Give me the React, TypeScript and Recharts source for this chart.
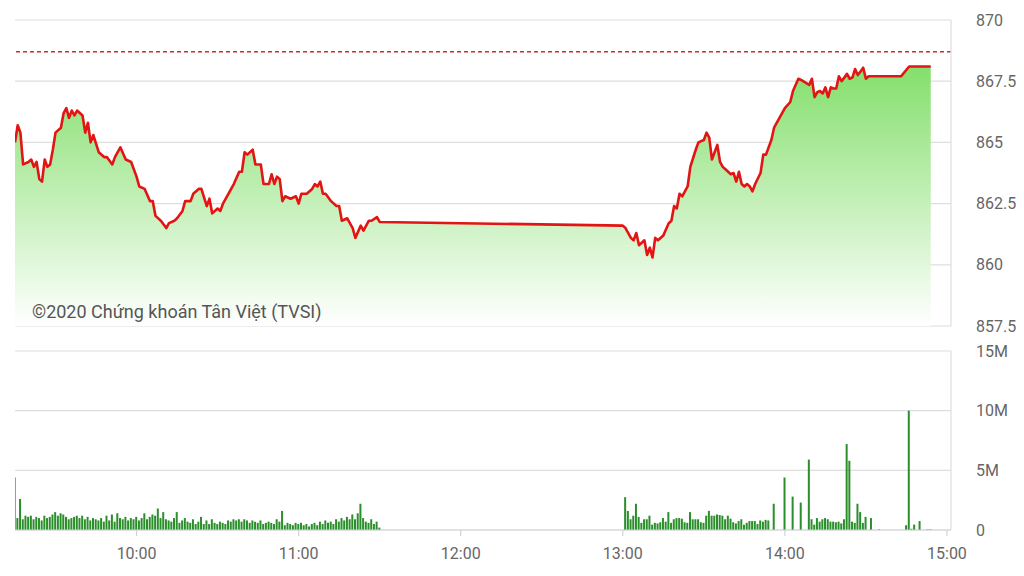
import { ComposedChart, Area, Bar, XAxis, YAxis, CartesianGrid, ReferenceLine } from 'recharts';

// minutes since midnight
const priceTimes = [
  555, 556, 557, 558, 560, 561, 562, 563, 564, 565, 566, 567, 568, 569, 570, 572, 573, 574, 575, 576,
  577, 578, 580, 581, 582, 583, 584, 586, 588, 589, 591, 592, 594, 596, 598, 600, 601, 603, 605, 606,
  607, 609, 611, 612, 614, 615, 617, 618, 620, 621, 623, 624, 626, 627, 628, 630, 631, 632, 634, 636,
  638, 639, 640, 641, 643, 644, 646, 647, 649, 650, 651, 652, 653, 654, 655, 657, 659, 660, 661, 662,
  663, 665, 666, 667, 668, 669, 670, 672, 674, 675, 676, 678, 680, 681, 683, 684, 686, 687, 689, 690,
  780, 781, 783, 784, 785, 786, 788, 789, 790, 791, 792, 793, 795, 797, 798, 799, 800, 801, 802, 804,
  805, 807, 808, 810, 811, 812, 813, 815, 816, 817, 818, 820, 821, 822, 823, 824, 825, 826, 827, 828,
  829, 831, 832, 833, 835, 836, 838, 840, 842, 843, 845, 846, 849, 850, 851, 852, 853, 854, 855, 856,
  857, 858, 859, 860, 861, 863, 864, 865, 866, 867, 868, 869, 870, 871, 883, 886, 894,
];

const priceValues = [
  865.0, 865.7, 865.4, 864.1, 864.2, 864.3, 864.0, 864.2, 863.5, 863.4, 864.3, 864.0, 864.1, 864.7, 865.4, 865.6, 866.2, 866.4, 866.0, 866.3,
  866.1, 866.3, 866.1, 865.4, 865.8, 865.0, 865.3, 864.6, 864.4, 864.4, 864.1, 864.4, 864.8, 864.3, 864.2, 863.6, 863.2, 863.1, 862.6, 862.6,
  862.0, 861.8, 861.5, 861.7, 861.8, 861.9, 862.2, 862.6, 862.6, 862.9, 863.1, 863.1, 862.4, 862.7, 862.1, 862.3, 862.2, 862.5, 862.9, 863.3,
  863.8, 863.8, 864.6, 864.5, 864.7, 864.1, 864.1, 863.3, 863.3, 863.7, 863.3, 863.6, 863.5, 862.6, 862.8, 862.7, 862.8, 862.5, 862.9, 862.9,
  862.9, 863.1, 863.3, 863.2, 863.4, 862.9, 862.9, 862.6, 862.4, 862.4, 861.8, 861.9, 861.5, 861.1, 861.6, 861.4, 861.8, 861.8, 861.95, 861.75,
  861.6, 861.5, 861.1, 861.0, 861.3, 860.8, 861.0, 860.4, 860.7, 860.3, 861.1, 861.0, 861.2, 861.7, 861.8, 862.4, 862.3, 862.9, 862.8, 863.2,
  864.0, 864.7, 865.0, 865.1, 865.4, 865.2, 864.3, 864.9, 864.2, 864.0, 863.9, 863.7, 863.75, 863.4, 863.8, 863.3, 863.2, 863.3, 863.2, 863.0,
  863.3, 863.75, 864.5, 864.5, 865.1, 865.6, 866.0, 866.4, 866.65, 867.1, 867.6, 867.55, 867.35, 867.6, 866.85, 867.05, 867.1, 867.0, 867.25, 866.85,
  867.25, 867.2, 867.2, 867.7, 867.5, 867.8, 867.6, 867.65, 868.0, 867.75, 867.9, 868.05, 867.6, 867.7, 867.7, 868.1, 868.1,
];

const refPrice = 868.7;

// volume in millions, one bar per minute
const morningVolStart = 555;
const morningVol = [
  4.4, 1.0, 2.6, 0.9, 1.2, 1.1,
  1.2, 0.9, 1.1, 1.0, 0.8, 1.2, 1.0, 1.1, 1.3, 1.5, 1.2, 1.4, 1.3, 1.1, 0.9,
  1.0, 1.1, 1.2, 1.0, 1.2, 0.9, 1.1, 0.8, 1.0, 0.9, 0.8, 1.0, 0.7, 1.2, 0.8,
  1.3, 0.7, 1.4, 1.0, 0.9, 1.1, 0.8, 1.0, 0.9, 1.1,
  0.8, 1.0, 1.4, 0.9, 1.1, 1.3, 1.2, 1.8, 1.0, 1.5, 0.9, 0.8,
  0.7, 1.0, 1.5, 0.6, 0.8, 1.0, 0.7, 0.6, 0.9, 0.5, 0.7, 1.1, 0.5,
  0.8, 0.5, 0.9, 0.6, 0.5, 0.7, 0.6, 0.5, 0.8, 0.7, 0.9, 0.8, 0.9, 0.7, 0.9, 0.8, 0.6, 0.8, 0.7, 0.6, 0.8, 0.5, 0.6, 0.7, 0.6,
  0.5, 0.9, 0.7, 1.6, 0.4, 0.6, 0.5, 0.4, 0.6, 0.5,
  0.6, 0.4, 0.5, 0.3, 0.5, 0.6, 0.4, 0.7, 0.5, 0.8, 0.6, 0.7, 0.5, 0.9, 0.7, 1.0, 0.8, 1.1, 0.9, 1.3,
  0.9, 1.4, 2.2, 1.0, 0.7, 0.6, 0.9, 0.5, 0.7, 0.2,
];

const afternoonVolStart = 781;
const afternoonVol = [
  2.75, 1.6, 0.9, 1.2, 2.2, 1.1, 0.6, 0.9, 0.9, 1.2,
  0.45, 0.6, 0.55, 0.65, 1.0, 0.7, 1.5, 0.6, 0.9, 1.0,
  1.0, 0.95, 0.65, 0.6, 1.5, 0.9, 0.9, 0.9, 0.65, 0.6,
  1.2, 1.6, 1.2, 1.2, 1.3, 1.25, 1.2, 0.9, 1.2, 0.95,
  0.65, 0.55, 0.75, 0.9, 0.45, 0.6, 0.75, 0.75, 0.75,
  0.5, 0.8, 0.7, 0.85, 0.8,
];

const lateVolTimes = [
  836, 840, 843, 846, 849, 850, 851, 852, 853, 854, 855, 856, 857, 858, 859, 860, 861, 862,
  863, 864, 865, 866, 867, 868, 869, 870, 872, 875, 885, 886, 887, 888, 890, 893, 894,
];
const lateVol = [
  2.2, 4.4, 2.8, 2.3, 5.9, 0.9, 0.45, 1.0, 0.7, 0.9, 1.0, 0.9, 0.7, 0.7, 0.65, 0.7, 0.55, 0.9,
  7.2, 5.8, 0.7, 0.6, 2.2, 1.5, 0.6, 1.1, 1.0, 0.05, 0.4, 10.0, 0.1, 0.45, 0.75, 0.05, 0.05,
];

const timeTicks = [600, 660, 720, 780, 840, 900];
const priceTicks = [857.5, 860, 862.5, 865, 867.5, 870];
const volTicks = [0, 5, 10, 15];

const priceData = priceTimes.map((t, i) => ({ t, price: priceValues[i] }));
const volData = [
  ...morningVol.map((vol, i) => ({ t: morningVolStart + i, vol })),
  ...afternoonVol.map((vol, i) => ({ t: afternoonVolStart + i, vol })),
  ...lateVolTimes.map((t, i) => ({ t, vol: lateVol[i] })),
];

const X_DOMAIN: [number, number] = [555, 901.5];
const GRID = '#dedede';
const LABEL = '#666';

const fmtTime = (t: number) => `${Math.floor(t / 60)}:${String(t % 60).padStart(2, '0')}`;
const fmtPrice = (v: number) => String(v);
const fmtVol = (v: number) => (v === 0 ? '0' : `${v}M`);

export default function App() {
  return (
    <div
      style={{
        position: 'absolute',
        left: 0,
        top: 0,
        width: 1024,
        height: 576,
        background: '#fff',
        fontFamily: 'Roboto, sans-serif',
      }}
    >
      <div style={{ position: 'absolute', left: 0, top: 0 }}>
        <ComposedChart width={1024} height={340} data={priceData} margin={{ top: 20, right: 0, bottom: 14, left: 15 }}>
          <defs>
            <linearGradient id="priceFill" x1="0" y1="0" x2="0" y2="1">
              <stop offset="0%" stopColor="#84df6c" />
              <stop offset="100%" stopColor="#ffffff" />
            </linearGradient>
          </defs>
          <CartesianGrid vertical={false} stroke={GRID} strokeWidth={1.2} />
          <XAxis dataKey="t" type="number" domain={X_DOMAIN} ticks={timeTicks} hide allowDataOverflow />
          <YAxis
            orientation="right"
            type="number"
            domain={[857.5, 870]}
            ticks={priceTicks}
            tickFormatter={fmtPrice}
            width={73}
            tickSize={0}
            tickMargin={25}
            tickLine={false}
            axisLine={{ stroke: GRID, strokeWidth: 1.2 }}
            tick={{ fill: LABEL, fontSize: 16 }}
            allowDataOverflow
          />
          <ReferenceLine y={refPrice} stroke="#d42a2a" strokeWidth={1.4} strokeDasharray="4 3" />
          <Area
            type="linear"
            dataKey="price"
            stroke="#e31414"
            strokeWidth={2.6}
            strokeLinejoin="round"
            fill="url(#priceFill)"
            fillOpacity={1}
            isAnimationActive={false}
            dot={false}
            activeDot={false}
          />
        </ComposedChart>
      </div>
      <div
        style={{
          position: 'absolute',
          left: 32,
          top: 301,
          fontSize: 18,
          lineHeight: '21px',
          color: '#555',
          whiteSpace: 'nowrap',
        }}
      >
        ©2020 Chứng khoán Tân Việt (TVSI)
      </div>
      <div style={{ position: 'absolute', left: 0, top: 340 }}>
        <ComposedChart width={1024} height={236} data={volData} margin={{ top: 11, right: 0, bottom: 0, left: 15 }}>
          <CartesianGrid vertical={false} stroke={GRID} strokeWidth={1.2} />
          <XAxis
            dataKey="t"
            type="number"
            domain={X_DOMAIN}
            ticks={timeTicks}
            tickFormatter={fmtTime}
            height={46}
            tickSize={6}
            tickMargin={12}
            axisLine={{ stroke: '#cfd4da', strokeWidth: 1.2 }}
            tickLine={{ stroke: '#cfd4da', strokeWidth: 1.2 }}
            tick={{ fill: LABEL, fontSize: 16 }}
            allowDataOverflow
          />
          <YAxis
            orientation="right"
            type="number"
            domain={[0, 15]}
            ticks={volTicks}
            tickFormatter={fmtVol}
            width={73}
            tickSize={0}
            tickMargin={25}
            tickLine={false}
            axisLine={{ stroke: GRID, strokeWidth: 1.2 }}
            tick={{ fill: LABEL, fontSize: 16 }}
            allowDataOverflow
          />
          <Bar dataKey="vol" fill="#2a8e2a" barSize={2} isAnimationActive={false} />
        </ComposedChart>
      </div>
    </div>
  );
}
